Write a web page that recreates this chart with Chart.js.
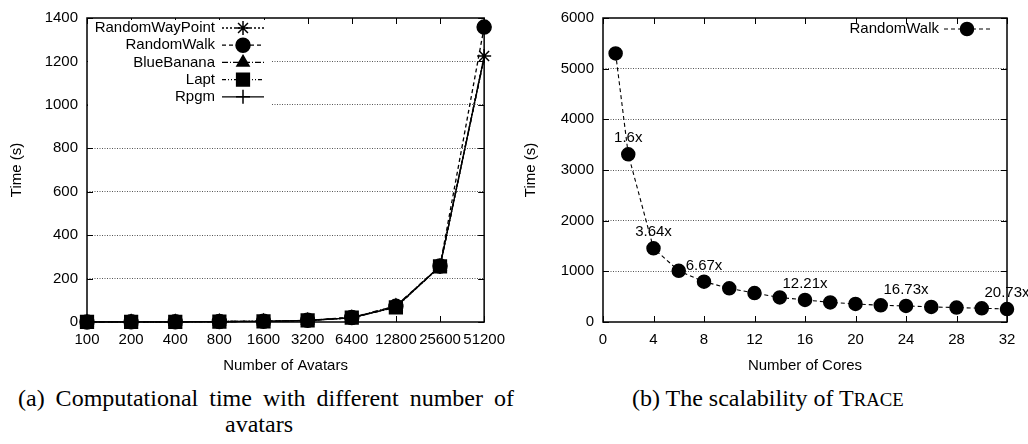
<!DOCTYPE html>
<html>
<head>
<meta charset="utf-8">
<script src="https://cdn.jsdelivr.net/npm/chart.js@4.4.1/dist/chart.umd.min.js"></script>
<style>
  body { margin: 0; background: #fff; width: 1028px; height: 444px; overflow: hidden; position: relative; }
  .panel { position: absolute; top: 0; width: 514px; height: 380px; }
  .cap { position: absolute; font-family: "Liberation Serif", "Times New Roman", serif;
         font-size: 24px; line-height: 26px; color: #000; white-space: nowrap; }
  .just { text-align: justify; text-align-last: justify; white-space: normal; }
  .mid { text-align: center; }
</style>
</head>
<body>
<div class="panel" style="left:0"><canvas id="avatarsChart"></canvas></div>
<div class="panel" style="left:514px"><canvas id="coresChart"></canvas></div>
<div class="cap just" style="left:18px;top:385px;width:496px">(a) Computational time with different number of</div>
<div class="cap mid" style="left:159px;top:411px;width:200px">avatars</div>
<div class="cap" style="left:632px;top:385px">(b) The scalability of T<span style="font-size:78%">RACE</span></div>

<script>
// ── Data: (a) time vs number of avatars ───────────────────────
const avatarCounts   = ["100", "200", "400", "800", "1600", "3200", "6400", "12800", "25600", "51200"];
const randomWayPoint = [0.3, 0.6, 1, 2, 3, 7, 19, 70, 256, 1225];
const randomWalk     = [0.3, 0.6, 1, 2, 3, 8, 21, 72, 258, 1358];
const blueBanana     = [0.3, 0.6, 1, 2, 3, 7, 20, 74, 256, 1218];
const lapt           = [0.3, 0.6, 1, 2, 3, 7, 20, 67, 256, 1215];
const rpgm           = [0.3, 0.6, 1, 2, 3, 7, 19, 69, 256, 1220];

// ── Data: (b) scalability ─────────────────────────────────────
const cores          = [1, 2, 4, 6, 8, 10, 12, 14, 16, 18, 20, 22, 24, 26, 28, 30, 32];
const coresTime      = [5300, 3310, 1455, 1010, 795, 666, 570, 484, 436, 387, 356, 330, 317, 298, 285, 271, 256];
const speedupCores   = [2, 4, 8, 16, 24, 32];
const speedupText    = ["1.6x", "3.64x", "6.67x", "12.21x", "16.73x", "20.73x"];

const FONT = "'Liberation Sans', Arial, sans-serif";
Chart.defaults.font.family = FONT;
Chart.defaults.font.size = 15;
Chart.defaults.color = "#000";

// ── gnuplot-like frame with inward ticks ──────────────────────
const framePlugin = {
  id: "frame",
  beforeDatasetsDraw(chart) {
    const { ctx, chartArea: a, scales: { x, y } } = chart;
    ctx.save();
    ctx.strokeStyle = "#000";
    ctx.lineWidth = 1;
    ctx.setLineDash([]);
    ctx.beginPath();
    x.ticks.forEach((t, i) => {
      const px = Math.round(x.getPixelForTick(i)) + 0.5;
      ctx.moveTo(px, a.bottom); ctx.lineTo(px, a.bottom - 6);
      ctx.moveTo(px, a.top);    ctx.lineTo(px, a.top + 6);
    });
    y.ticks.forEach((t, i) => {
      const py = Math.round(y.getPixelForTick(i)) + 0.5;
      ctx.moveTo(a.left, py);  ctx.lineTo(a.left + 6, py);
      ctx.moveTo(a.right, py); ctx.lineTo(a.right - 6, py);
    });
    ctx.stroke();
    ctx.lineWidth = 1.5;
    ctx.strokeRect(a.left, a.top, a.right - a.left, a.bottom - a.top);
    ctx.restore();
  }
};

// ── gnuplot-like key: text, then line sample with marker ──────
const keyPlugin = {
  id: "gnuKey",
  afterDraw(chart, args, opts) {
    const { ctx } = chart;
    ctx.save();
    if (opts.box) {
      ctx.fillStyle = "#fff";
      ctx.fillRect(opts.box[0], opts.box[1], opts.box[2], opts.box[3]);
    }
    ctx.font = "15px " + FONT;
    ctx.textAlign = "right";
    ctx.textBaseline = "middle";
    chart.data.datasets.forEach((ds, i) => {
      const yy = opts.top + i * opts.step;
      ctx.fillStyle = "#000";
      ctx.strokeStyle = "#000";
      ctx.fillText(ds.label, opts.textRight, yy);
      ctx.lineWidth = ds.borderWidth;
      ctx.setLineDash(ds.borderDash || []);
      ctx.beginPath();
      ctx.moveTo(opts.x1, yy);
      ctx.lineTo(opts.x2, yy);
      ctx.stroke();
      ctx.setLineDash([]);
      ctx.lineWidth = ds.pointBorderWidth;
      Chart.helpers.drawPoint(ctx, {
        pointStyle: ds.pointStyle, radius: ds.keyRadius, rotation: 0, borderWidth: ds.pointBorderWidth
      }, (opts.x1 + opts.x2) / 2, yy);
    });
    ctx.restore();
  }
};

// ── speed-up annotations above points ─────────────────────────
const speedupPlugin = {
  id: "speedup",
  afterDatasetsDraw(chart) {
    const { ctx, scales: { x, y } } = chart;
    ctx.save();
    ctx.font = "15px " + FONT;
    ctx.fillStyle = "#000";
    ctx.textAlign = "center";
    ctx.textBaseline = "middle";
    speedupCores.forEach((c, i) => {
      const t = coresTime[cores.indexOf(c)];
      ctx.fillText(speedupText[i], x.getPixelForValue(c), y.getPixelForValue(t) - 16);
    });
    ctx.restore();
  }
};

// hideLast: the reference only shows markers of the top two series at 51200
function series(label, data, dash, style, radius, order, hideLast) {
  return {
    label, data, order,
    borderColor: "#000",
    backgroundColor: "#000",
    borderWidth: 1.3,
    borderDash: dash,
    pointStyle: style,
    keyRadius: radius,
    pointRadius: hideLast ? data.map((v, i) => (i === data.length - 1 ? 0 : radius)) : radius,
    pointBackgroundColor: "#000",
    pointBorderColor: "#000",
    pointBorderWidth: 1.5,
    tension: 0,
    clip: false,
  };
}

function yScale(max, step, titleText, width) {
  return {
    min: 0, max,
    ticks: { stepSize: step, padding: 9, color: "#000", callback: v => String(v) },
    grid: {
      drawTicks: false,
      lineWidth: 1,
      color: c => (c.tick && (c.tick.value === 0 || c.tick.value === max)) ? "rgba(0,0,0,0)" : "#555",
    },
    border: { display: false, dash: [1, 1.5] },
    title: { display: true, text: titleText, padding: { top: 8 }, font: { size: 15 } },
    afterFit(s) { s.width = width; }
  };
}

function xTitle(text) {
  return { display: true, text, padding: { bottom: 5 }, font: { size: 15 } };
}

// ── (a) Computational time vs avatars ─────────────────────────
new Chart(document.getElementById("avatarsChart"), {
  type: "line",
  data: {
    labels: avatarCounts,
    datasets: [
      series("RandomWayPoint", randomWayPoint, [2, 2], "star", 7, 1, false),
      series("RandomWalk", randomWalk, [4, 3], "circle", 7, 2, false),
      series("BlueBanana", blueBanana, [6, 2, 1, 2], "triangle", 7, 5, true),
      series("Lapt", lapt, [4, 2, 1, 2, 1, 2], "rect", 9, 4, true),
      series("Rpgm", rpgm, [], "cross", 7, 3, true),
    ]
  },
  options: {
    responsive: true,
    maintainAspectRatio: false,
    animation: false,
    layout: { padding: { top: 13, right: 25, left: 0, bottom: 0 } },
    plugins: {
      legend: { display: false },
      tooltip: { enabled: false },
      gnuKey: { box: [88, 20, 184, 86], textRight: 215, x1: 222, x2: 264, top: 28, step: 17.2 }
    },
    scales: {
      x: {
        offset: false,
        ticks: { padding: 9, color: "#000", autoSkip: false, maxRotation: 0 },
        grid: { display: false, drawTicks: false },
        border: { display: false },
        title: xTitle("Number of Avatars"),
        afterFit(s) { s.height = 58; }
      },
      y: yScale(1400, 200, "Time (s)", 87)
    }
  },
  plugins: [framePlugin, keyPlugin]
});

// ── (b) Scalability ───────────────────────────────────────────
new Chart(document.getElementById("coresChart"), {
  type: "line",
  data: {
    datasets: [
      Object.assign(series("RandomWalk", cores.map((c, i) => ({ x: c, y: coresTime[i] })), [4, 3], "circle", 6.5, 1, false),
        { borderWidth: 1.1 })
    ]
  },
  options: {
    responsive: true,
    maintainAspectRatio: false,
    animation: false,
    layout: { padding: { top: 13, right: 21, left: 0, bottom: 0 } },
    plugins: {
      legend: { display: false },
      tooltip: { enabled: false },
      gnuKey: { textRight: 425, x1: 430, x2: 476, top: 29, step: 17 }
    },
    scales: {
      x: {
        type: "linear", min: 0, max: 32,
        ticks: { stepSize: 4, padding: 9, color: "#000" },
        grid: { display: false, drawTicks: false },
        border: { display: false },
        title: xTitle("Number of Cores"),
        afterFit(s) { s.height = 58; }
      },
      y: yScale(6000, 1000, "Time (s)", 89)
    }
  },
  plugins: [framePlugin, keyPlugin, speedupPlugin]
});
</script>
</body>
</html>
